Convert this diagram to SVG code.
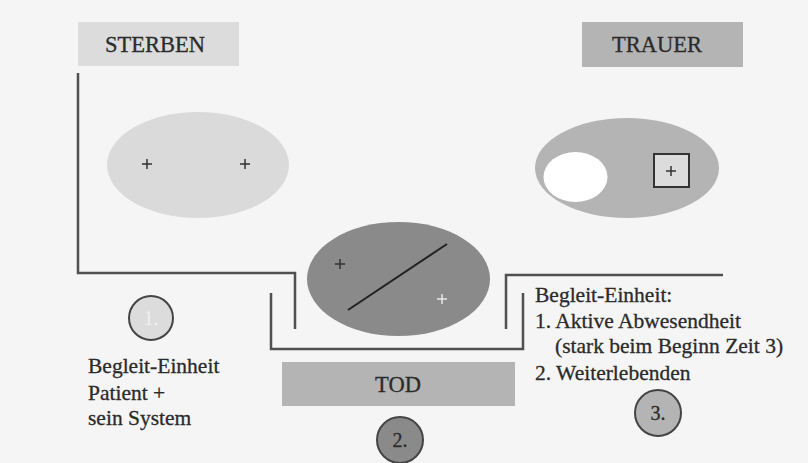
<svg xmlns="http://www.w3.org/2000/svg" width="808" height="463" viewBox="0 0 808 463">
<style>
text{font-family:"Liberation Serif","Times New Roman",serif;fill:#2b2b2b;stroke:#2b2b2b;stroke-width:0.3}
.hd{font-size:22.5px;text-anchor:middle}
.tx{font-size:21.5px}
.ln{fill:none;stroke:#505050;stroke-width:2.5}
.pl{stroke:#333;stroke-width:1.5;fill:none}
.num{font-size:20px;text-anchor:middle}
</style>
<rect x="0" y="0" width="808" height="463" fill="#f5f5f5"/>
<g id="connectors">
<polyline class="ln" points="78,73 78,273 295,273 295,329"/>
<polyline class="ln" points="271,293 271,349 523,349 523,293"/>
<polyline class="ln" points="723,275 506,275 506,329"/>
</g>
<g id="sterben">
<rect x="78" y="22" width="161" height="44" fill="#dcdcdc"/>
<text class="hd" x="155" y="52">STERBEN</text>
</g>
<g id="trauer">
<rect x="582" y="22" width="161" height="45" fill="#b4b4b4"/>
<text class="hd" x="657" y="52">TRAUER</text>
</g>
<g id="ellipse-sterben">
<ellipse cx="198" cy="165" rx="91" ry="53" fill="#dadada"/>
<path class="pl" d="M142,164h10M147,159v10M240,164h10M245,159v10"/>
</g>
<g id="ellipse-trauer">
<ellipse cx="627" cy="168" rx="92" ry="50" fill="#b4b4b4"/>
<ellipse cx="575.5" cy="177" rx="32" ry="25" fill="#ffffff"/>
<rect x="654" y="154" width="35" height="33" fill="#dcdcdc" stroke="#333" stroke-width="2"/>
<path class="pl" d="M666,171h10M671,166v10"/>
</g>
<g id="ellipse-tod">
<ellipse cx="398.5" cy="279" rx="91.5" ry="57" fill="#8a8a8a"/>
<line x1="348" y1="310" x2="447" y2="244" stroke="#222" stroke-width="2"/>
<path class="pl" d="M335,264h10M340,259v10"/>
<path d="M437,299h10M442,294v10" stroke="#e8e8e8" stroke-width="1.5" fill="none"/>
</g>
<g id="tod">
<rect x="282" y="362" width="233" height="44" fill="#b4b4b4"/>
<text class="hd" x="398" y="392">TOD</text>
</g>
<g id="circle-1">
<circle cx="151" cy="318" r="22" fill="#dcdcdc" stroke="#444" stroke-width="2"/>
<text class="num" x="151" y="325" style="fill:#f0f0f0;stroke:none">1.</text>
</g>
<g id="circle-2">
<circle cx="400" cy="440" r="23" fill="#8a8a8a" stroke="#444" stroke-width="2"/>
<text class="num" x="400" y="447">2.</text>
</g>
<g id="circle-3">
<circle cx="658" cy="413" r="23" fill="#b4b4b4" stroke="#444" stroke-width="2"/>
<text class="num" x="658" y="420">3.</text>
</g>
<g id="text-left">
<text class="tx" x="88" y="373">Begleit-Einheit</text>
<text class="tx" x="88" y="400">Patient +</text>
<text class="tx" x="88" y="425">sein System</text>
</g>
<g id="text-right">
<text class="tx" x="535" y="302">Begleit-Einheit:</text>
<text class="tx" x="535" y="328">1. Aktive Abwesendheit</text>
<text class="tx" x="555" y="353">(stark beim Beginn Zeit 3)</text>
<text class="tx" x="535" y="380">2. Weiterlebenden</text>
</g>
</svg>
